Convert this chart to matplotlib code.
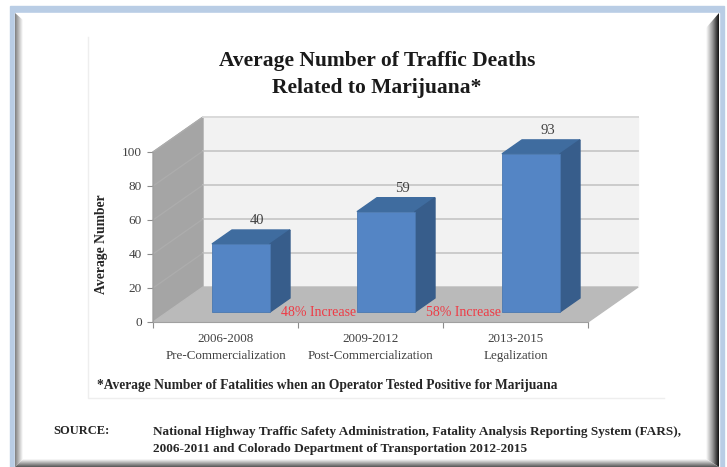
"""
plot.py

Faux 3D column chart of traffic deaths inside a bevelled frame.
"""
import matplotlib

matplotlib.use("Agg")
import matplotlib.pyplot as plt
import numpy as np
from matplotlib.colors import LinearSegmentedColormap
from matplotlib.patches import Polygon

plt.rcParams["font.family"] = ["Liberation Serif", "DejaVu Serif"]

# Chart data
periods = ["2006-2008\nPre-Commercialization", "2009-2012\nPost-Commercialization", "2013-2015\nLegalization"]
deaths = [40, 59, 93]
increase_labels = ["48% Increase", "58% Increase"]
y_ticks = [0, 20, 40, 60, 80, 100]

title = "Average Number of Traffic Deaths\nRelated to Marijuana*"
footnote = "*Average Number of Fatalities when an Operator Tested Positive for Marijuana"
source = (
    "National Highway Traffic Safety Administration, Fatality Analysis Reporting System (FARS),\n"
    "2006-2011 and Colorado Department of Transportation 2012-2015"
)

WIDTH, HEIGHT = 727, 467

# Front plane of the chart box, pixels
LEFT, RIGHT, BOTTOM, TOP = 153, 588, 322, 152
PX_X = 3 / (RIGHT - LEFT)
PX_Y = 100 / (BOTTOM - TOP)

# Depth of the box and of the columns, data units
DEPTH_X, DEPTH_Y = 50 * PX_X, 35 * PX_Y
GAP_X, GAP_Y = 15.5 * PX_X, 10 * PX_Y
BAR_X, BAR_Y = 20 * PX_X, 14 * PX_Y
BAR_WIDTH = 58 * PX_X

WALL = "#a5a5a5"
FLOOR = "#bababa"
BACK = "#f2f2f2"
GRID = "#c9c9c9"
WALL_GRID = "#adadad"
FRONT = "#5485c5"
BAR_TOP = "#3f6c9f"
BAR_SIDE = "#375d8b"
TEXT = "#404040"
RED = "#ee3b45"


def gradient(ax, extent, colors, vertical, corners):
    """Draw a shaded band clipped to a bevel shape."""
    ramp = np.linspace(0, 1, 64)
    ramp = ramp[:, None] if vertical else ramp[None, :]
    cmap = LinearSegmentedColormap.from_list("band", colors)
    image = ax.imshow(ramp, extent=extent, cmap=cmap, aspect="auto", zorder=2, interpolation="bilinear")
    image.set_clip_path(Polygon(corners, transform=ax.transData))


fig = plt.figure(figsize=(WIDTH / 100, HEIGHT / 100), dpi=100, facecolor="white")

# Background layer in pixel coordinates: frame and loose text
bg = fig.add_axes([0, 0, 1, 1])
bg.axis("off")

blue = "#b9cde5"
bg.fill([10, 724, 724, 10], [6, 6, 467, 467], color=blue, zorder=1)
bg.fill([15, 719, 719, 15], [13, 13, 467, 467], color="white", zorder=1)
gradient(bg, (15, 23, 467, 13), ["#7f7f7f", "#ffffff"], False, [(15, 13), (23, 20), (23, 459), (15, 467)])
gradient(bg, (706, 719, 467, 13), ["#ffffff", "#9a9a9a", "#111111"], False, [(719, 13), (706, 28), (706, 459), (719, 467)])
gradient(bg, (15, 719, 467, 459), ["#ffffff", "#555555"], True, [(15, 467), (23, 459), (706, 459), (719, 467)])
bg.plot([88, 88, 664], [37, 398, 398], color="#eeeeee", lw=1, zorder=1)

bg.set_xlim(0, WIDTH)
bg.set_ylim(HEIGHT, 0)

bg.text(377, 74.5, title, ha="center", va="center", fontsize=15.5, fontweight="bold", color="#1a1a1a", linespacing=1.5)
bg.text(97, 386, footnote, ha="left", va="center", fontsize=9.75, fontweight="bold", color="#262626")
bg.text(53, 431, "SOURCE:", ha="left", va="center", fontsize=9, fontweight="bold", color="#262626")
bg.text(153, 440.5, source, ha="left", va="center", fontsize=9.55, fontweight="bold", color="#262626", linespacing=1.65)

# Chart layer, axes fitted to the front plane
ax = fig.add_axes(
    [LEFT / WIDTH, 1 - BOTTOM / HEIGHT, (RIGHT - LEFT) / WIDTH, (BOTTOM - TOP) / HEIGHT]
)
ax.patch.set_alpha(0)
ax.set_xlim(0, len(deaths))
ax.set_ylim(0, y_ticks[-1])
ymax = y_ticks[-1]
xmax = len(deaths)

# Box walls
ax.fill(
    [DEPTH_X, xmax + DEPTH_X, xmax + DEPTH_X, DEPTH_X],
    [DEPTH_Y, DEPTH_Y, ymax + DEPTH_Y, ymax + DEPTH_Y],
    color=BACK, clip_on=False, zorder=1,
)
ax.fill(
    [0, DEPTH_X, DEPTH_X, 0], [0, DEPTH_Y, ymax + DEPTH_Y, ymax],
    color=WALL, clip_on=False, zorder=1,
)
ax.fill(
    [0, xmax, xmax + DEPTH_X, DEPTH_X], [0, 0, DEPTH_Y, DEPTH_Y],
    color=FLOOR, clip_on=False, zorder=1,
)

# Gridlines along back and side walls
for tick in y_ticks[1:]:
    ax.plot(
        [DEPTH_X, xmax + DEPTH_X], [tick + DEPTH_Y] * 2,
        color=GRID, lw=1.3, clip_on=False, zorder=2,
    )
    ax.plot(
        [0, DEPTH_X], [tick, tick + DEPTH_Y],
        color=WALL_GRID, lw=0.9, clip_on=False, zorder=2,
    )
ax.plot(
    [DEPTH_X, xmax + DEPTH_X], [ymax + DEPTH_Y] * 2,
    color="#dcdcdc", lw=1.3, clip_on=False, zorder=2,
)

# Columns
centers = np.arange(len(deaths)) + 0.5
ax.bar(
    centers + GAP_X, deaths, BAR_WIDTH, bottom=GAP_Y,
    color=FRONT, edgecolor="#4a78b0", lw=0.6, clip_on=False, zorder=4,
)
for center, value in zip(centers, deaths):
    x0 = center + GAP_X - BAR_WIDTH / 2
    x1 = center + GAP_X + BAR_WIDTH / 2
    y0 = GAP_Y
    y1 = GAP_Y + value
    ax.fill(
        [x0, x1, x1 + BAR_X, x0 + BAR_X], [y1, y1, y1 + BAR_Y, y1 + BAR_Y],
        color=BAR_TOP, clip_on=False, zorder=3,
    )
    ax.fill(
        [x1, x1 + BAR_X, x1 + BAR_X, x1], [y0, y0 + BAR_Y, y1 + BAR_Y, y1],
        color=BAR_SIDE, clip_on=False, zorder=3,
    )
    ax.annotate(
        str(value), (center + GAP_X, y1), xytext=(16.5, 23), textcoords="offset pixels",
        ha="center", va="center", fontsize=10.5, color=TEXT, zorder=6,
    )

# Increase labels sit between the columns
for center, label in zip(centers[:-1], increase_labels):
    ax.annotate(
        label, (center + GAP_X, GAP_Y), xytext=(77.5, -1), textcoords="offset pixels",
        ha="center", va="center", fontsize=10, color=RED, zorder=6,
    )

# Axes
for name in ["top", "right"]:
    ax.spines[name].set_visible(False)
for name in ["left", "bottom"]:
    ax.spines[name].set_color("#a0a0a0")
    ax.spines[name].set_zorder(5)

ax.set_yticks(y_ticks)
ax.set_xticks(np.arange(len(deaths) + 1))
ax.set_xticklabels([])
ax.set_xticks(centers, periods, minor=True)
ax.tick_params(axis="x", which="major", length=4, color="#8c8c8c", direction="out")
ax.tick_params(axis="x", which="minor", length=0, pad=8, labelsize=9.4, labelcolor=TEXT)
ax.tick_params(axis="y", length=4, color="#8c8c8c", pad=4, labelsize=9.5, labelcolor=TEXT)
for label in ax.get_xticklabels(minor=True):
    label.set_linespacing(1.5)

ax.set_ylabel("Average Number", fontsize=9.8, fontweight="bold", color="#262626")
ax.yaxis.set_label_coords((108 - LEFT) / (RIGHT - LEFT), (BOTTOM - 244) / (BOTTOM - TOP))

fig.savefig("out.png", dpi=100)
